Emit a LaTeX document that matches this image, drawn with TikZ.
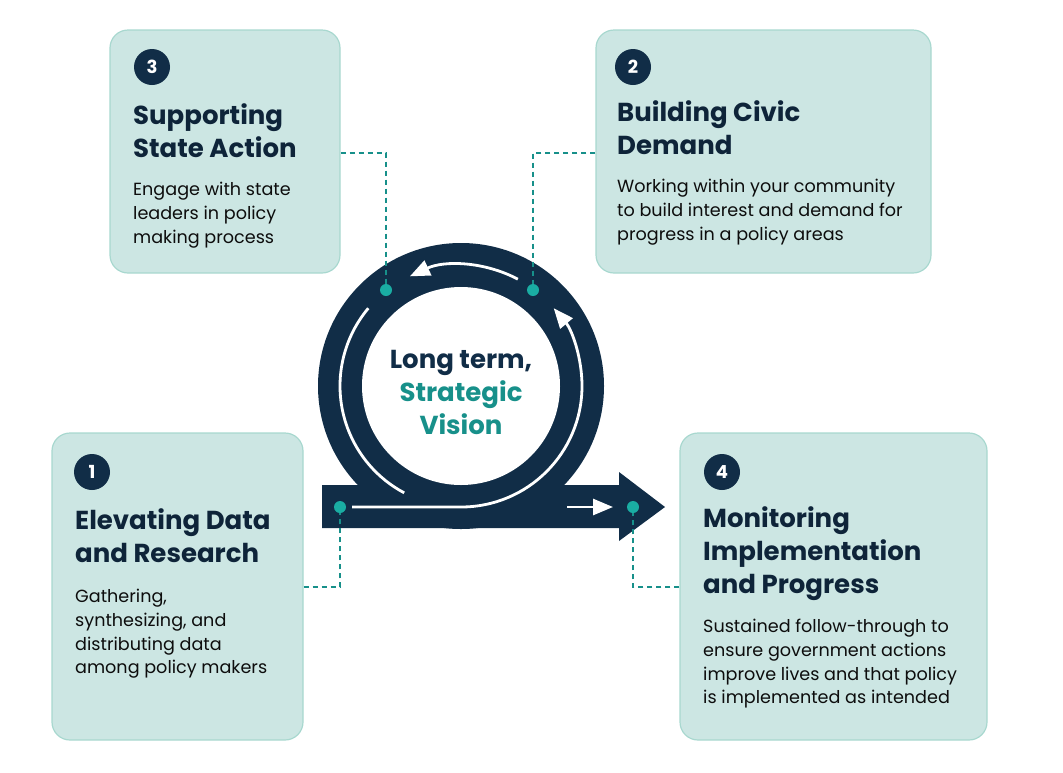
\documentclass[tikz,border=0pt]{standalone}
\usepackage{fontspec}
\setmainfont{Poppins}
\usetikzlibrary{arrows.meta}
\definecolor{navy}{HTML}{112D47}
\definecolor{teal}{HTML}{17908A}
\definecolor{dotc}{HTML}{1AADA3}
\definecolor{boxf}{HTML}{CCE6E3}
\definecolor{boxd}{HTML}{A8D8CF}
\begin{document}
\begin{tikzpicture}[x=1pt,y=-1pt,
  box/.style={fill=boxf,draw=boxd,line width=1.2pt,rounded corners=18pt},
  num/.style={circle,fill=navy,text=white,minimum size=36pt,inner sep=0,font=\fontsize{18}{18}\selectfont\bfseries},
  ttl/.style={anchor=north west,inner sep=0,align=left,text=navy!80!black,font=\fontsize{26}{33}\selectfont\bfseries},
  bdy/.style={anchor=north west,inner sep=0,align=left,text=black!95,font=\fontsize{17.6}{23.7}\selectfont},
  conn/.style={draw=teal,line width=1.5pt,dash pattern=on 5pt off 4pt},
  dot/.style={circle,fill=dotc,minimum size=12pt,inner sep=0},
  wl/.style={draw=white,line width=2.8pt},
  wa/.style={wl,-{Triangle[length=20pt,width=16pt]}}]
\useasboundingbox (0,0) rectangle (1063,772);
% boxes
\node[box,minimum width=230pt,minimum height=243pt] (b3) at (225,151.5) {};
\node[box,minimum width=335pt,minimum height=243pt] (b2) at (763.5,151.5) {};
\node[box,minimum width=251pt,minimum height=307pt] (b1) at (177.5,586.5) {};
\node[box,minimum width=307pt,minimum height=307pt] (b4) at (833.5,586.5) {};
\node[num] (n3) at (152,67) {3};
\node[num] (n2) at (633,67) {2};
\node[num] (n1) at (92,472) {1};
\node[num] (n4) at (722,472) {4};
\node[ttl] (t3) at (133,103) {Supporting\\State Action};
\node[bdy] (d3) at (133,182) {Engage with state\\leaders in policy\\making process};
\node[ttl] (t2) at (617,100) {Building Civic\\Demand};
\node[bdy] (d2) at (617,179) {Working within your community\\to build interest and demand for\\progress in a policy areas};
\node[ttl] (t1) at (75,508) {Elevating Data\\and Research};
\node[bdy] (d1) at (75,589) {Gathering,\\synthesizing, and\\distributing data\\among policy makers};
\node[ttl] (t4) at (703,506) {Monitoring\\Implementation\\and Progress};
\node[bdy] (d4) at (703,619) {Sustained follow-through to\\ensure government actions\\improve lives and that policy\\is implemented as intended};
% loop shape
\fill[navy] (461,386) circle (143);
\fill[navy] (322,485) -- (619,485) -- (619,472) -- (665,507) -- (619,541) -- (619,528) -- (322,528) -- cycle;
\fill[white] (461,386) circle (99);
\draw[wa] (352,507) -- (461,507) arc[start angle=90,end angle=-40,radius=121];
\draw[wa] ([shift={(-62:121)}]461,386) arc[start angle=-62,end angle=-115,radius=121];
\draw[wl] ([shift={(-140:121)}]461,386) arc[start angle=-140,end angle=-242,radius=121];
\draw[wa] (567,507) -- (613,507);
\node[font=\fontsize{26}{33}\selectfont\bfseries,align=center] (c) at (461,392) {\textcolor{navy}{Long term,}\\\textcolor{teal}{Strategic}\\\textcolor{teal}{Vision}};
% dots and dashed connectors
\node[dot] (p3) at (386,290) {};
\node[dot] (p2) at (533,290) {};
\node[dot] (p1) at (340,507) {};
\node[dot] (p4) at (633,507) {};
\coordinate (k3) at (386,153);
\coordinate (k2) at (533,153);
\coordinate (k1) at (340,587);
\coordinate (k4) at (633,587);
\draw[conn] (b3.east |- k3) -- (k3) -- (p3);
\draw[conn] (b2.west |- k2) -- (k2) -- (p2);
\draw[conn] (b1.east |- k1) -- (k1) -- (p1);
\draw[conn] (b4.west |- k4) -- (k4) -- (p4);
\end{tikzpicture}
\end{document}
